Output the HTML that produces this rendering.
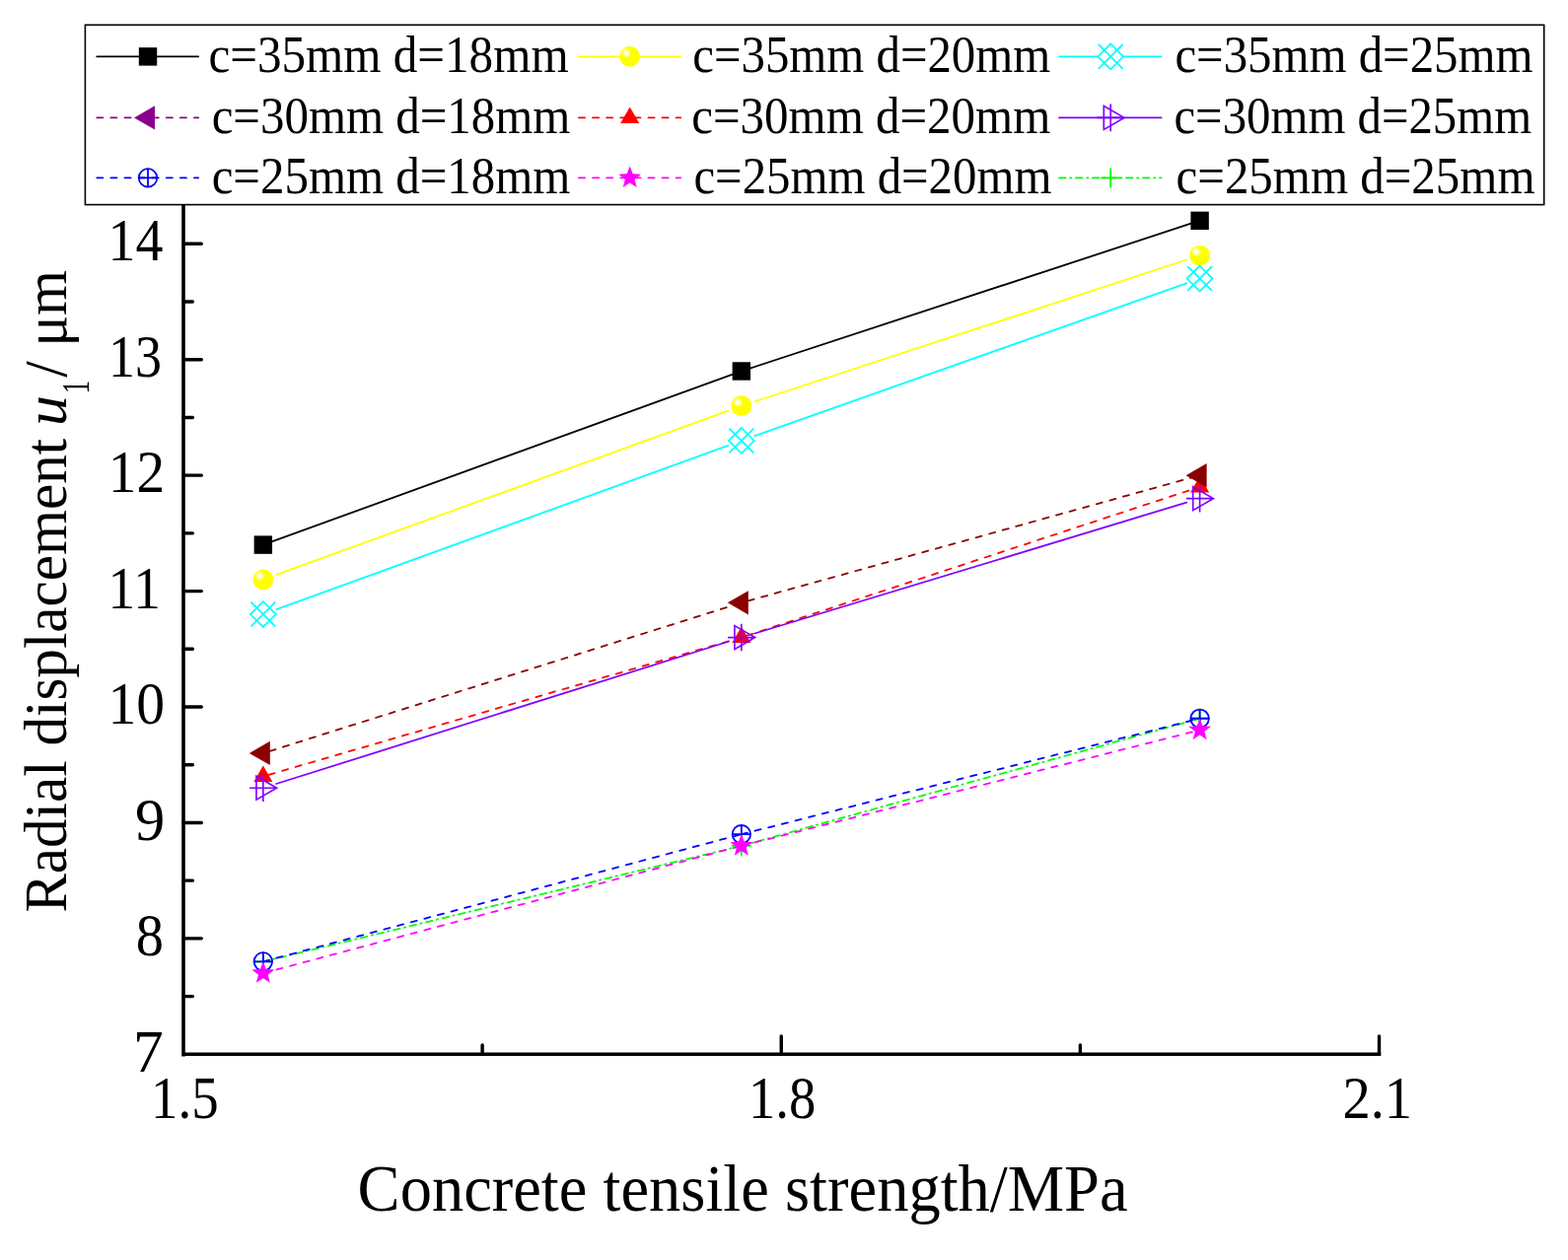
<!DOCTYPE html>
<html><head><meta charset="utf-8"><title>Radial displacement chart</title>
<style>
html,body{margin:0;padding:0;background:#fff;}
svg{display:block;}
text{font-family:"Liberation Serif","Times New Roman",serif;fill:#000;}
</style></head><body>
<svg width="1590" height="1278" viewBox="0 0 1590 1278">
<defs>
<radialGradient id="hl" cx="0.5" cy="0.5" r="0.5">
<stop offset="0" stop-color="#ffffff" stop-opacity="1"/>
<stop offset="0.3" stop-color="#ffffff" stop-opacity="0.9"/>
<stop offset="0.65" stop-color="#ffffff" stop-opacity="0.45"/>
<stop offset="1" stop-color="#ffffff" stop-opacity="0"/>
</radialGradient>
</defs>
<rect x="0" y="0" width="1590" height="1278" fill="#fff"/>

<line x1="275.57" y1="549.44" x2="743.09" y2="379.65" stroke="#000000" stroke-width="1.8" stroke-linecap="round"/>
<line x1="760.67" y1="373.57" x2="1207.79" y2="226.72" stroke="#000000" stroke-width="1.8" stroke-linecap="round"/>
<rect x="257.63" y="543.41" width="18.40" height="18.40" fill="#000000"/>
<rect x="742.63" y="367.27" width="18.40" height="18.40" fill="#000000"/>
<rect x="1207.42" y="214.61" width="18.40" height="18.40" fill="#000000"/>
<line x1="280.27" y1="582.96" x2="738.39" y2="416.58" stroke="#FFFF00" stroke-width="1.8" stroke-linecap="round"/>
<line x1="765.42" y1="407.24" x2="1203.04" y2="263.51" stroke="#FFFF00" stroke-width="1.8" stroke-linecap="round"/>
<circle cx="266.83" cy="587.84" r="10.4" fill="#FFFF00"/><circle cx="263.33" cy="584.14" r="5.4" fill="url(#hl)"/>
<circle cx="751.83" cy="411.70" r="10.4" fill="#FFFF00"/><circle cx="748.33" cy="408.00" r="5.4" fill="url(#hl)"/>
<circle cx="1216.62" cy="259.04" r="10.4" fill="#FFFF00"/><circle cx="1213.12" cy="255.34" r="5.4" fill="url(#hl)"/>
<line x1="280.27" y1="618.19" x2="738.39" y2="451.81" stroke="#00FFFF" stroke-width="1.8" stroke-linecap="round"/>
<line x1="765.31" y1="442.16" x2="1203.14" y2="287.30" stroke="#00FFFF" stroke-width="1.8" stroke-linecap="round"/>
<path d="M254.43,610.67L279.23,635.47M279.23,610.67L254.43,635.47M266.83,610.17L279.73,623.07L266.83,635.97L253.93,623.07Z" fill="none" stroke="#00FFFF" stroke-width="1.8"/>
<path d="M739.43,434.53L764.23,459.33M764.23,434.53L739.43,459.33M751.83,434.03L764.73,446.93L751.83,459.83L738.93,446.93Z" fill="none" stroke="#00FFFF" stroke-width="1.8"/>
<path d="M1204.22,270.13L1229.02,294.93M1229.02,270.13L1204.22,294.93M1216.62,269.63L1229.52,282.53L1216.62,295.43L1203.72,282.53Z" fill="none" stroke="#00FFFF" stroke-width="1.8"/>
<line x1="272.60" y1="785.80" x2="746.07" y2="648.23" stroke="#FF0000" stroke-width="1.8" stroke-linecap="round" stroke-dasharray="6.2 7.9"/>
<line x1="757.53" y1="644.68" x2="1210.92" y2="495.77" stroke="#FF0000" stroke-width="1.8" stroke-linecap="round" stroke-dasharray="6.2 7.9"/>
<path d="M266.83,776.47L276.36,792.97L257.31,792.97Z" fill="#FF0000"/>
<path d="M751.83,635.56L761.36,652.06L742.31,652.06Z" fill="#FF0000"/>
<path d="M1216.62,482.90L1226.15,499.40L1207.10,499.40Z" fill="#FF0000"/>
<line x1="273.51" y1="761.88" x2="745.16" y2="613.43" stroke="#8B0000" stroke-width="1.8" stroke-linecap="round" stroke-dasharray="6.2 7.9"/>
<line x1="758.58" y1="609.45" x2="1209.88" y2="484.03" stroke="#8B0000" stroke-width="1.8" stroke-linecap="round" stroke-dasharray="6.2 7.9"/>
<path d="M252.83,763.99L273.83,751.86L273.83,776.11Z" fill="#8B0000"/>
<path d="M737.83,611.33L758.83,599.20L758.83,623.45Z" fill="#8B0000"/>
<path d="M1202.62,482.16L1223.62,470.03L1223.62,494.28Z" fill="#8B0000"/>
<line x1="280.19" y1="795.01" x2="738.48" y2="650.76" stroke="#8000FF" stroke-width="1.8" stroke-linecap="round"/>
<line x1="765.23" y1="642.50" x2="1203.23" y2="509.70" stroke="#8000FF" stroke-width="1.8" stroke-linecap="round"/>
<path d="M280.63,799.21L259.93,787.26L259.93,811.17ZM253.03,799.21L280.63,799.21M266.83,785.41L266.83,813.01" fill="none" stroke="#8000FF" stroke-width="1.65" stroke-linejoin="miter"/>
<path d="M765.63,646.56L744.93,634.61L744.93,658.51ZM738.03,646.56L765.63,646.56M751.83,632.76L751.83,660.36" fill="none" stroke="#8000FF" stroke-width="1.65" stroke-linejoin="miter"/>
<path d="M1230.42,505.64L1209.72,493.69L1209.72,517.59ZM1202.82,505.64L1230.42,505.64M1216.62,491.84L1216.62,519.44" fill="none" stroke="#8000FF" stroke-width="1.65" stroke-linejoin="miter"/>
<line x1="266.83" y1="975.36" x2="751.83" y2="857.93" stroke="#00FF00" stroke-width="1.8" stroke-linecap="round" stroke-dasharray="6.6 4.5 1.3 4.6"/>
<line x1="751.83" y1="857.93" x2="1216.62" y2="728.76" stroke="#00FF00" stroke-width="1.8" stroke-linecap="round" stroke-dasharray="6.6 4.5 1.3 4.6"/>
<path d="M256.83,975.36L276.83,975.36M266.83,965.36L266.83,985.36" stroke="#00FF00" stroke-width="1.8"/>
<path d="M741.83,857.93L761.83,857.93M751.83,847.93L751.83,867.93" stroke="#00FF00" stroke-width="1.8"/>
<path d="M1206.62,728.76L1226.62,728.76M1216.62,718.76L1216.62,738.76" stroke="#00FF00" stroke-width="1.8"/>
<line x1="266.83" y1="975.36" x2="751.83" y2="846.19" stroke="#0000FF" stroke-width="1.8" stroke-linecap="round" stroke-dasharray="6.2 7.9"/>
<line x1="751.83" y1="846.19" x2="1216.62" y2="728.76" stroke="#0000FF" stroke-width="1.8" stroke-linecap="round" stroke-dasharray="6.2 7.9"/>
<circle cx="266.83" cy="975.36" r="9.2" fill="none" stroke="#0000FF" stroke-width="1.8"/><path d="M257.63,975.36L276.03,975.36M266.83,966.16L266.83,984.56" stroke="#0000FF" stroke-width="1.8"/>
<circle cx="751.83" cy="846.19" r="9.2" fill="none" stroke="#0000FF" stroke-width="1.8"/><path d="M742.63,846.19L761.03,846.19M751.83,836.99L751.83,855.39" stroke="#0000FF" stroke-width="1.8"/>
<circle cx="1216.62" cy="728.76" r="9.2" fill="none" stroke="#0000FF" stroke-width="1.8"/><path d="M1207.42,728.76L1225.82,728.76M1216.62,719.56L1216.62,737.96" stroke="#0000FF" stroke-width="1.8"/>
<line x1="266.83" y1="987.10" x2="751.83" y2="857.93" stroke="#FF00FF" stroke-width="1.8" stroke-linecap="round" stroke-dasharray="6.2 7.9"/>
<line x1="751.83" y1="857.93" x2="1216.62" y2="740.50" stroke="#FF00FF" stroke-width="1.8" stroke-linecap="round" stroke-dasharray="6.2 7.9"/>
<polygon points="266.83,975.10 269.80,983.02 278.25,983.39 271.63,988.66 273.89,996.81 266.83,992.14 259.78,996.81 262.04,988.66 255.42,983.39 263.87,983.02" fill="#FF00FF"/>
<polygon points="751.83,845.93 754.80,853.85 763.25,854.22 756.63,859.49 758.89,867.64 751.83,862.97 744.78,867.64 747.04,859.49 740.42,854.22 748.87,853.85" fill="#FF00FF"/>
<polygon points="1216.62,728.50 1219.59,736.42 1228.04,736.79 1221.42,742.06 1223.68,750.21 1216.62,745.54 1209.57,750.21 1211.83,742.06 1205.21,736.79 1213.66,736.42" fill="#FF00FF"/>
<path d="M186.0,150L186.0,1069.6M186.0,1069.3L1398.5,1069.3" stroke="#000" stroke-width="3.6" stroke-linecap="square" fill="none"/>
<path d="M489.12,1069.3L489.12,1060.0M792.25,1069.3L792.25,1051.0M1095.38,1069.3L1095.38,1060.0M1398.50,1069.3L1398.50,1051.0M186.0,1010.59L195.4,1010.59M186.0,951.87L204.3,951.87M186.0,893.16L195.4,893.16M186.0,834.44L204.3,834.44M186.0,775.73L195.4,775.73M186.0,717.01L204.3,717.01M186.0,658.30L195.4,658.30M186.0,599.59L204.3,599.59M186.0,540.87L195.4,540.87M186.0,482.16L204.3,482.16M186.0,423.44L195.4,423.44M186.0,364.73L204.3,364.73M186.0,306.01L195.4,306.01M186.0,247.30L204.3,247.30M186.0,188.59L195.4,188.59" stroke="#000" stroke-width="3.4" stroke-linecap="round" fill="none"/>
<rect x="86.4" y="25.3" width="1479.30" height="182.30" fill="#fff" stroke="#000" stroke-width="1.6"/>
<line x1="98.2" y1="57.4" x2="141.00" y2="57.4" stroke="#000000" stroke-width="1.7" stroke-linecap="round"/>
<line x1="201.2" y1="57.4" x2="159.00" y2="57.4" stroke="#000000" stroke-width="1.7" stroke-linecap="round"/>
<rect x="140.80" y="48.20" width="18.40" height="18.40" fill="#000000"/>
<line x1="586.9" y1="57.4" x2="628.20" y2="57.4" stroke="#FFFF00" stroke-width="1.7" stroke-linecap="round"/>
<line x1="690.3" y1="57.4" x2="649.20" y2="57.4" stroke="#FFFF00" stroke-width="1.7" stroke-linecap="round"/>
<circle cx="638.70" cy="57.40" r="10.4" fill="#FFFF00"/><circle cx="635.20" cy="53.70" r="5.4" fill="url(#hl)"/>
<line x1="1074.0" y1="57.4" x2="1113.20" y2="57.4" stroke="#00FFFF" stroke-width="1.7" stroke-linecap="round"/>
<line x1="1177.6" y1="57.4" x2="1139.20" y2="57.4" stroke="#00FFFF" stroke-width="1.7" stroke-linecap="round"/>
<path d="M1113.80,45.00L1138.60,69.80M1138.60,45.00L1113.80,69.80M1126.20,44.50L1139.10,57.40L1126.20,70.30L1113.30,57.40Z" fill="none" stroke="#00FFFF" stroke-width="1.8"/>
<line x1="98.2" y1="119.4" x2="201.2" y2="119.4" stroke="#8B008B" stroke-width="1.7" stroke-linecap="round" stroke-dasharray="6.2 7.9"/>
<path d="M136.00,119.40L157.00,107.28L157.00,131.52Z" fill="#8B008B"/>
<line x1="586.9" y1="119.4" x2="690.3" y2="119.4" stroke="#FF0000" stroke-width="1.7" stroke-linecap="round" stroke-dasharray="6.2 7.9"/>
<path d="M638.70,108.40L648.23,124.90L629.17,124.90Z" fill="#FF0000"/>
<line x1="1074.0" y1="119.4" x2="1177.6" y2="119.4" stroke="#8000FF" stroke-width="1.7" stroke-linecap="round"/>
<path d="M1140.00,119.40L1119.30,107.45L1119.30,131.35ZM1112.40,119.40L1140.00,119.40M1126.20,105.60L1126.20,133.20" fill="none" stroke="#8000FF" stroke-width="1.65" stroke-linejoin="miter"/>
<line x1="98.2" y1="180.4" x2="201.2" y2="180.4" stroke="#0000FF" stroke-width="1.7" stroke-linecap="round" stroke-dasharray="6.2 7.9"/>
<circle cx="150.00" cy="180.40" r="9.2" fill="none" stroke="#0000FF" stroke-width="1.8"/><path d="M140.80,180.40L159.20,180.40M150.00,171.20L150.00,189.60" stroke="#0000FF" stroke-width="1.8"/>
<line x1="586.9" y1="180.4" x2="690.3" y2="180.4" stroke="#FF00FF" stroke-width="1.7" stroke-linecap="round" stroke-dasharray="6.2 7.9"/>
<polygon points="638.70,168.40 641.66,176.32 650.11,176.69 643.49,181.96 645.75,190.11 638.70,185.44 631.65,190.11 633.91,181.96 627.29,176.69 635.74,176.32" fill="#FF00FF"/>
<line x1="1074.0" y1="180.4" x2="1177.6" y2="180.4" stroke="#00FF00" stroke-width="1.7" stroke-linecap="round" stroke-dasharray="6.6 4.5 1.3 4.6"/>
<path d="M1116.20,180.40L1136.20,180.40M1126.20,170.40L1126.20,190.40" stroke="#00FF00" stroke-width="1.8"/>
<text transform="translate(109.57,263.90) scale(0.9103,1)" font-size="61.37">14</text>
<text transform="translate(110.04,381.90) scale(0.8802,1)" font-size="61.37">13</text>
<text transform="translate(109.74,498.80) scale(0.9338,1)" font-size="61.37">12</text>
<text transform="translate(109.62,617.20) scale(0.9012,1)" font-size="61.37">11</text>
<text transform="translate(109.42,734.30) scale(0.9383,1)" font-size="61.37">10</text>
<text transform="translate(136.89,851.60) scale(0.9852,1)" font-size="61.37">9</text>
<text transform="translate(137.64,969.00) scale(0.9194,1)" font-size="61.37">8</text>
<text transform="translate(134.90,1087.00) scale(1.0018,1)" font-size="61.37">7</text>
<text transform="translate(152.96,1134.00) scale(0.8947,1)" font-size="61.37">1.5</text>
<text transform="translate(758.98,1134.00) scale(0.8903,1)" font-size="61.37">1.8</text>
<text transform="translate(1361.46,1134.00) scale(0.9207,1)" font-size="61.37">2.1</text>
<text transform="translate(362.62,1228.00) scale(0.9585,1)" font-size="67.31">Concrete tensile strength/MPa</text>
<text transform="translate(67.00,925.57) rotate(-90) scale(0.9800,1)" font-size="60.31">Radial displacement</text>
<text transform="translate(67.00,431.88) rotate(-90) scale(1.0229,1)" font-size="60.31" style="font-style:italic">u</text>
<text transform="translate(90.10,399.32) rotate(-90) scale(0.6845,1)" font-size="39.24">1</text>
<text transform="translate(67.00,382.70) rotate(-90) scale(0.9785,1)" font-size="60.31">/ μm</text>
<text transform="translate(211.43,73.10) scale(0.9384,1)" font-size="52.37">c=35mm d=18mm</text>
<text transform="translate(702.25,73.10) scale(0.9329,1)" font-size="52.37">c=35mm d=20mm</text>
<text transform="translate(1191.45,73.10) scale(0.9327,1)" font-size="52.37">c=35mm d=25mm</text>
<text transform="translate(214.64,134.80) scale(0.9347,1)" font-size="52.37">c=30mm d=18mm</text>
<text transform="translate(701.24,134.80) scale(0.9355,1)" font-size="52.37">c=30mm d=20mm</text>
<text transform="translate(1190.45,134.80) scale(0.9319,1)" font-size="52.37">c=30mm d=25mm</text>
<text transform="translate(214.64,196.00) scale(0.9347,1)" font-size="52.37">c=25mm d=18mm</text>
<text transform="translate(703.45,196.00) scale(0.9324,1)" font-size="52.37">c=25mm d=20mm</text>
<text transform="translate(1192.54,196.00) scale(0.9353,1)" font-size="52.37">c=25mm d=25mm</text>
</svg></body></html>
